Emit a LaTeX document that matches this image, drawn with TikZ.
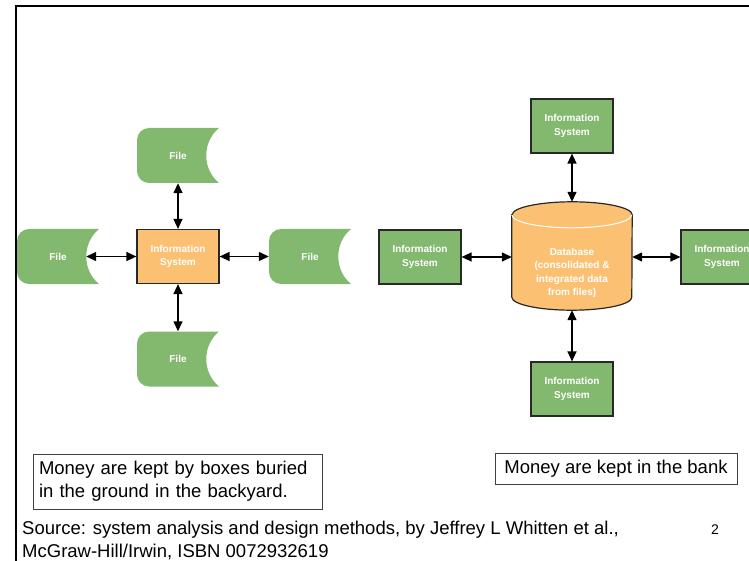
\documentclass[tikz,border=0pt]{standalone}
\usepackage{fontspec}
\setmainfont{Liberation Sans}
\usetikzlibrary{arrows.meta}
\definecolor{filegreen}{RGB}{131,185,111}
\definecolor{isorange}{RGB}{251,192,114}
\definecolor{edge}{RGB}{40,40,40}
\begin{document}
\begin{tikzpicture}[x=1pt,y=-1pt,
	lbl/.style={text=white,font=\fontsize{10}{13.3}\selectfont\bfseries,align=center},
	file/.style={lbl,minimum width=82pt,minimum height=55pt,inner sep=0pt,
		path picture={\fill[filegreen] (path picture bounding box.north east) -- ++(-70pt,0pt)
			arc[start angle=90,end angle=180,radius=12pt] -- ++(0pt,-31pt)
			arc[start angle=180,end angle=270,radius=12pt] -- (path picture bounding box.south east)
			.. controls +(-17pt,14pt) and +(-17pt,-14pt) .. (path picture bounding box.north east) -- cycle;}},
	isbox/.style={lbl,fill=filegreen,draw=edge,line width=1.2pt,minimum width=82pt,minimum height=54pt,inner sep=0pt},
	ctrbox/.style={isbox,fill=isorange},
	link/.style={{Triangle[length=10pt,width=9pt]}-{Triangle[length=10pt,width=9pt]},line width=1.4pt},
	note/.style={draw=black!75,line width=0.8pt,font=\fontsize{18.5}{23}\selectfont,inner sep=0pt}]
	\useasboundingbox (0,0) rectangle (749,561);
	\draw[line width=2.2pt] (16,570) |- (760,6);
	
	% files around one system
	\node[ctrbox] (sys) at (178,256.5) {Information\\System};
	\node[file] (ftop) at (178,155.5) {File};
	\node[file] (fleft) at (58,256.5) {File};
	\node[file] (fright) at (310,256.5) {File};
	\node[file] (fbot) at (178,359) {File};
	\draw[link] (ftop.south) -- (sys.north);
	\draw[link] ([xshift=-13pt]fleft.east) -- (sys.west);
	\draw[link] (sys.east) -- (fright.west);
	\draw[link] (sys.south) -- (fbot.north);
	
	% systems around one database
	\node[minimum width=120pt,minimum height=108pt,inner sep=0pt] (db) at (572,256) {};
	\filldraw[fill=isorange,draw=edge,line width=1.2pt] ([yshift=-13pt]db.north west)
		-- ([yshift=13pt]db.south west) arc[start angle=180,end angle=360,x radius=60pt,y radius=13pt]
		-- ([yshift=-13pt]db.north east) arc[start angle=0,end angle=180,x radius=60pt,y radius=13pt] -- cycle;
	\draw[white,line width=1pt] ([yshift=-13pt]db.north west) arc[start angle=180,end angle=360,x radius=60pt,y radius=13pt];
	\node[lbl] (dbtext) at (572,273) {Database\\(consolidated \&\\integrated data\\from files)};
	\node[isbox] (istop) at (572,126) {Information\\System};
	\node[isbox] (isleft) at (420,257) {Information\\System};
	\node[isbox] (isright) at (722,257) {Information\\System};
	\node[isbox] (isbot) at (572,389) {Information\\System};
	\draw[link] (istop.south) -- (db.north);
	\draw[link] (isleft.east) -- (isleft.east -| db.west);
	\draw[link] (isright.west -| db.east) -- (isright.west);
	\draw[link] (db.south) -- (isbot.north);
	
	\node[note,minimum width=289pt,minimum height=55pt,text width=277pt,align=left] (ground) at (177.5,481.5) {Money are kept by boxes buried\\in the ground in the backyard.};
	\node[note,minimum width=242pt,minimum height=31pt] (bank) at (616,468.5) {Money are kept in the bank};
	\node[anchor=base west,align=left,inner sep=0pt,font=\fontsize{18.5}{23}\selectfont] (source) at (22,557) {Source: system analysis and design methods, by Jeffrey L Whitten et al.,\\McGraw-Hill/Irwin, ISBN 0072932619};
	\node[font=\fontsize{14}{16}\selectfont] (page) at (715,530) {2};
\end{tikzpicture}
\end{document}
